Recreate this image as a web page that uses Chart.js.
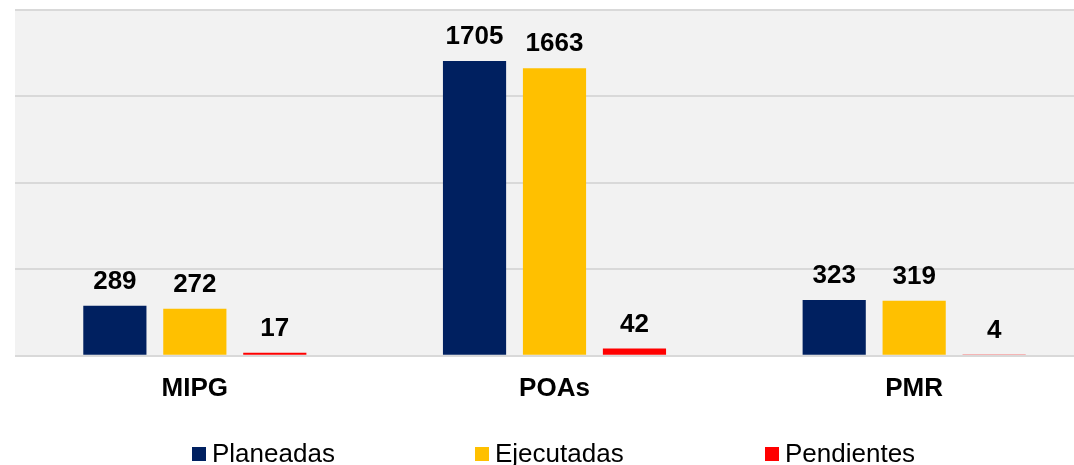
<!DOCTYPE html>
<html>
<head>
<meta charset="utf-8">
<script src="https://cdn.jsdelivr.net/npm/chart.js@4.4.1/dist/chart.umd.min.js"></script>
<style>
  html, body { margin: 0; padding: 0; background: #ffffff; overflow: hidden; width: 1074px; height: 465px; }
  #wrap { position: relative; width: 1074px; height: 465px; overflow: hidden; }
  #grafico { position: absolute; left: 0; top: 0; }
  .leyenda { position: absolute; top: 439px; font: 26px "Liberation Sans", Arial, sans-serif; color: #000; white-space: nowrap; line-height: 28px; }
  .leyenda span.caja { display: inline-block; width: 14px; height: 14px; margin-right: 6px; vertical-align: 1px; }
</style>
</head>
<body>
<div id="wrap">
  <canvas id="grafico" width="1094" height="465"></canvas>
  <div id="leyenda"></div>
</div>
<script>
// categorias y series
const categorias = ['MIPG', 'POAs', 'PMR'];
const planeadas = [289, 1705, 323];
const ejecutadas = [272, 1663, 319];
const pendientes = [17, 42, 4];

const series = ['Planeadas', 'Ejecutadas', 'Pendientes'];
const colores = ['#002060', '#FFC000', '#FF0000'];
const posLeyenda = [192, 475, 765];

const fuente = '"Liberation Sans", Arial, sans-serif';

// fondo gris solo en el area del grafico
const fondoArea = {
    id: 'fondoArea',
    beforeDraw(chart) {
        const { ctx, chartArea } = chart;
        ctx.save();
        ctx.fillStyle = '#f2f2f2';
        ctx.fillRect(chartArea.left, chartArea.top, chartArea.right - chartArea.left, chartArea.bottom - chartArea.top);
        ctx.restore();
    }
};

// etiquetas de valor encima de cada barra
const etiquetasValor = {
    id: 'etiquetasValor',
    afterDatasetsDraw(chart) {
        const ctx = chart.ctx;
        ctx.save();
        ctx.font = 'bold 26px ' + fuente;
        ctx.fillStyle = '#000000';
        ctx.textAlign = 'center';
        ctx.textBaseline = 'alphabetic';
        chart.data.datasets.forEach((ds, i) => {
            chart.getDatasetMeta(i).data.forEach((bar, j) => {
                ctx.fillText(String(ds.data[j]), bar.x, bar.y - 17);
            });
        });
        ctx.restore();
    }
};

const datos = [planeadas, ejecutadas, pendientes];

new Chart(document.getElementById('grafico').getContext('2d'), {
    type: 'bar',
    data: {
        labels: categorias,
        datasets: series.map((nombre, i) => ({
            label: nombre,
            data: datos[i],
            backgroundColor: colores[i],
            borderWidth: 0,
            categoryPercentage: 0.667,
            barPercentage: 0.79
        }))
    },
    options: {
        responsive: false,
        animation: false,
        layout: { padding: { left: 15, right: 0, top: 10, bottom: 44 } },
        scales: {
            x: {
                grid: { display: false, drawTicks: false },
                border: { display: false },
                ticks: { color: '#000000', padding: 17, font: { family: fuente, size: 26, weight: 'bold' } }
            },
            y: {
                min: 0,
                max: 2000,
                ticks: { display: false, stepSize: 500 },
                grid: { color: '#d9d9d9', lineWidth: 2, drawTicks: false },
                border: { display: false }
            }
        },
        plugins: {
            legend: { display: false },
            tooltip: { enabled: false }
        }
    },
    plugins: [fondoArea, etiquetasValor]
});

// leyenda en html
const leyenda = document.getElementById('leyenda');
series.forEach((nombre, i) => {
    const d = document.createElement('div');
    d.className = 'leyenda';
    d.style.left = posLeyenda[i] + 'px';
    d.innerHTML = '<span class="caja" style="background:' + colores[i] + '"></span>' + nombre;
    leyenda.appendChild(d);
});
</script>
</body>
</html>
